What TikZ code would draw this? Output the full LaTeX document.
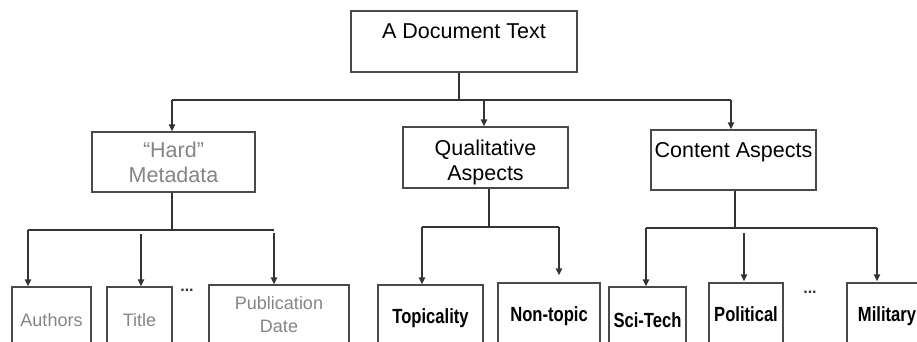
\documentclass[tikz,border=0pt]{standalone}
\usepackage{fontspec}
\setmainfont{Liberation Sans}
\newfontfamily\leaffont[FakeStretch=0.81]{Liberation Sans}
\usetikzlibrary{arrows.meta}
\definecolor{boxc}{HTML}{4A4A4A}
\definecolor{linec}{HTML}{333333}
\definecolor{softc}{HTML}{858585}
\begin{document}
\begin{tikzpicture}[x=1pt,y=-1pt,
  box/.style={draw=boxc, line width=1.5pt, inner xsep=0pt, inner ysep=0pt, align=center},
  big/.style={font=\fontsize{21.5}{25}\selectfont},
  soft/.style={font=\fontsize{18}{23.4}\selectfont, text=softc},
  leaf/.style={font=\fontsize{20.5}{24}\leaffont\bfseries},
  link/.style={draw=linec, line width=1.5pt},
  arr/.style={link, -{Triangle[length=7pt,width=6.5pt]}},
  dotsnode/.style={font=\fontsize{16}{18}\selectfont\bfseries, text=linec, inner sep=0pt}
]
\useasboundingbox (0,0) rectangle (917,341);
\fill[white] (0,0) rectangle (917,341);
\clip (0,0) rectangle (917,341);

% root
\node[box, big, minimum width=226pt, text height=27.5pt, text depth=33.5pt] (doc) at (464,41.5) {A Document Text};

% second level
\node[box, big, text=softc, minimum width=163pt, minimum height=60pt] (hard) at (173.5,162) {“Hard”\\Metadata};
\node[box, big, minimum width=165pt, minimum height=61pt] (qual) at (485.5,157.5) {\rule{0pt}{25pt}Qualitative\\Aspects};
\node[box, big, minimum width=165pt, text height=27.5pt, text depth=32.5pt] (content) at (733.5,160) {Content Aspects};

% leaves under the metadata branch
\node[box, soft, minimum width=79pt, text height=39pt, text depth=34pt] (authors) at (51.5,323.5) {Authors};
\node[box, soft, minimum width=65pt, text height=39pt, text depth=34pt] (title) at (139.5,323.5) {Title};
\node[box, soft, minimum width=140pt, minimum height=59pt] (pub) at (279,314.5) {Publication\\Date};
\node[dotsnode] (dotsA) at (187,290) {...};

% leaves under the qualitative branch
\node[box, leaf, minimum width=105pt, text height=38.3pt, text depth=36.7pt] (topic) at (430.5,322.5) {Topicality};
\node[box, leaf, minimum width=102pt, text height=38.7pt, text depth=38.3pt] (nontopic) at (549,321.5) {Non-topic};

% leaves under the content branch
\node[box, leaf, minimum width=77pt, text height=40pt, text depth=33pt] (scitech) at (647.5,323.5) {Sci-Tech};
\node[box, leaf, minimum width=74pt, text height=38.7pt, text depth=38.3pt] (political) at (746,321.5) {Political};
\node[dotsnode] (dotsB) at (810,292) {...};
\node[box, leaf, minimum width=80pt, text height=38.7pt, text depth=38.3pt] (military) at (887,321.5) {Military};

% root fan-out
\draw[link] ([xshift=-5pt]doc.south) -- ++(0,28) coordinate (j0);
\coordinate (b0l) at (172,100);
\coordinate (b0m) at (484,100);
\coordinate (b0r) at (731,100);
\draw[link] (b0l) -- (b0r);
\draw[arr] (b0l) -- (b0l |- hard.north);
\draw[arr] (b0m) -- (b0m |- qual.north);
\draw[arr] (b0r) -- (b0r |- content.north);

% metadata fan-out
\draw[link] ([xshift=-1.5pt]hard.south) -- ++(0,38);
\coordinate (b1l) at (28,230);
\coordinate (b1r) at (274,230);
\coordinate (b1m) at (141,234);
\coordinate (b1p) at (274,233);
\draw[link] (b1l) -- (b1r);
\draw[arr] (b1l) -- (b1l |- authors.north);
\draw[arr] (b1m) -- (b1m |- title.north);
\draw[arr] (b1p) -- (b1p |- pub.north);

% qualitative fan-out
\draw[link] ([xshift=3.5pt]qual.south) -- ++(0,39);
\coordinate (b2l) at (422,227);
\coordinate (b2r) at (559,227);
\draw[link] (b2l) -- (b2r);
\draw[arr] (b2l) -- (b2l |- topic.north);
\draw[arr] (b2r) -- ([yshift=7pt]b2r |- nontopic.north);

% content fan-out
\draw[link] ([xshift=1.5pt]content.south) -- ++(0,38);
\coordinate (b3l) at (646,228);
\coordinate (b3r) at (877,228);
\coordinate (b3m) at (744,233);
\draw[link] (b3l) -- (b3r);
\draw[arr] (b3l) -- (b3l |- scitech.north);
\draw[arr] (b3m) -- ([yshift=1pt]b3m |- political.north);
\draw[arr] (b3r) -- ([yshift=1pt]b3r |- military.north);
\end{tikzpicture}
\end{document}
